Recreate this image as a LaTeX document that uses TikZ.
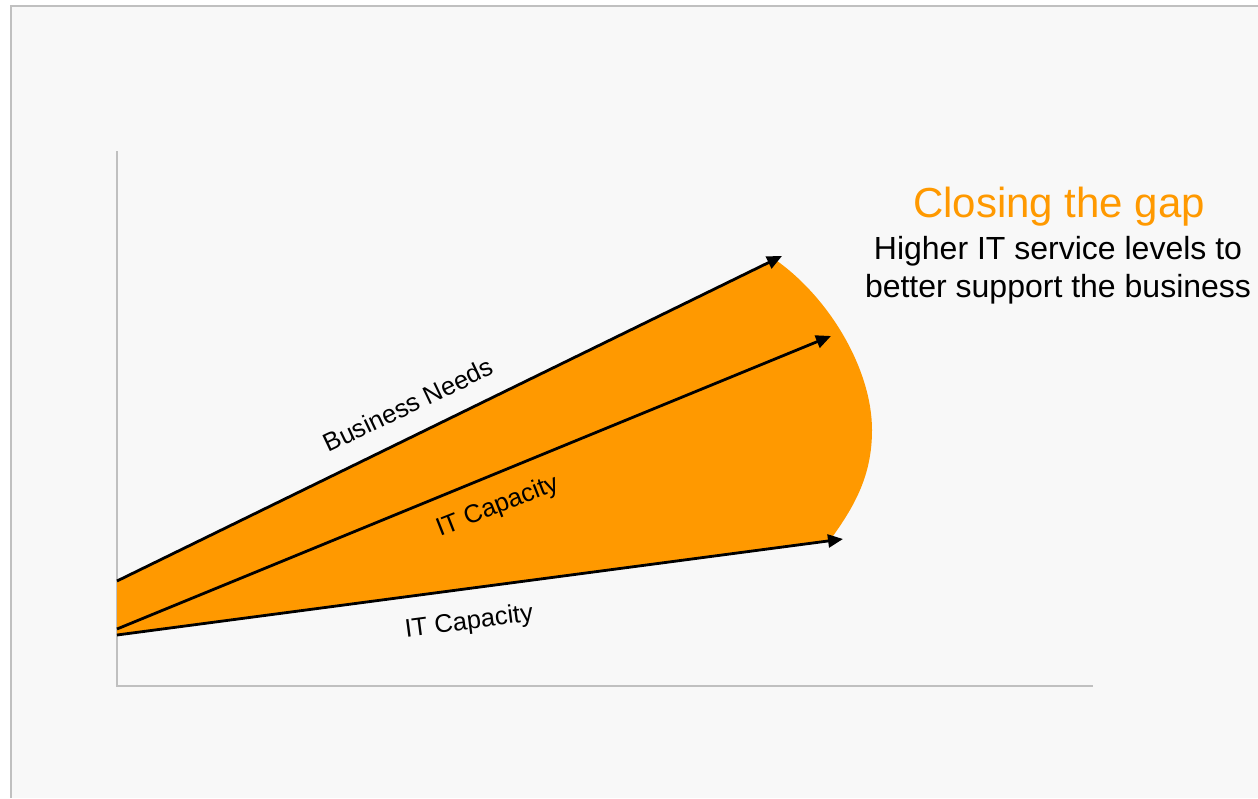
\documentclass[tikz,border=0pt]{standalone}
\usepackage{fontspec}
\setmainfont{Liberation Sans}
\usetikzlibrary{arrows.meta}
\definecolor{gaporange}{HTML}{FF9900}
\definecolor{axisgray}{HTML}{C0C0C0}
\definecolor{bggray}{HTML}{F8F8F8}
\tikzset{
  trend/.style={line width=2.8pt, black, -{Triangle[length=15pt,width=13pt]}},
  axisline/.style={line width=2pt, axisgray},
  linelabel/.style={font=\fontsize{25.5}{28}\selectfont, anchor=base, inner sep=0pt},
  subline/.style={font=\fontsize{32}{32}\selectfont, anchor=base, inner sep=0pt},
}
\begin{document}
\begin{tikzpicture}[x=1pt,y=-1pt]
\useasboundingbox (0,0) rectangle (1258,798);
\fill[white] (0,0) rectangle (1258,798);
\fill[bggray] (11,6) rectangle (1258,798);
\draw[line width=2pt, axisgray] (11,798) -- (11,6) -- (1258,6);

% axes
\coordinate (ytop) at (117,151);
\coordinate (orig) at (117,686);
\coordinate (xend) at (1093,686);
\draw[axisline] (ytop) -- (orig) -- (xend);

% line end points
\coordinate (bn0) at (117,581);
\coordinate (bn1) at (782,256);
\coordinate (ic0) at (117,629);
\coordinate (ic1) at (831,336);
\coordinate (lc0) at (117,635);
\coordinate (lc1) at (843,539);

% gap fill
\fill[gaporange] (bn0) -- (775,259.5)
  .. controls (830,298) and (872,370) .. (872,430)
  .. controls (872,475) and (855,505) .. (833,536)
  -- (833,540.3) -- (lc0) -- cycle;

% trend arrows
\draw[trend] (bn0) -- (bn1);
\draw[trend] (ic0) -- (ic1);
\draw[trend] (lc0) -- (lc1);

% labels
\node[linelabel, rotate=25.5] (lbn) at (412,413) {Business Needs};
\node[linelabel, rotate=21.5] (lic) at (500,513) {IT Capacity};
\node[linelabel, rotate=7.4] (llc) at (470,629) {IT Capacity};

\node[font=\fontsize{42}{42}\selectfont, text=gaporange, anchor=base, inner sep=0pt] (title) at (1059,217) {Closing the gap};
\node[subline] (sub1) at (1058,259) {Higher IT service levels to};
\node[subline] (sub2) at (1058,297) {better support the business};
\end{tikzpicture}
\end{document}
